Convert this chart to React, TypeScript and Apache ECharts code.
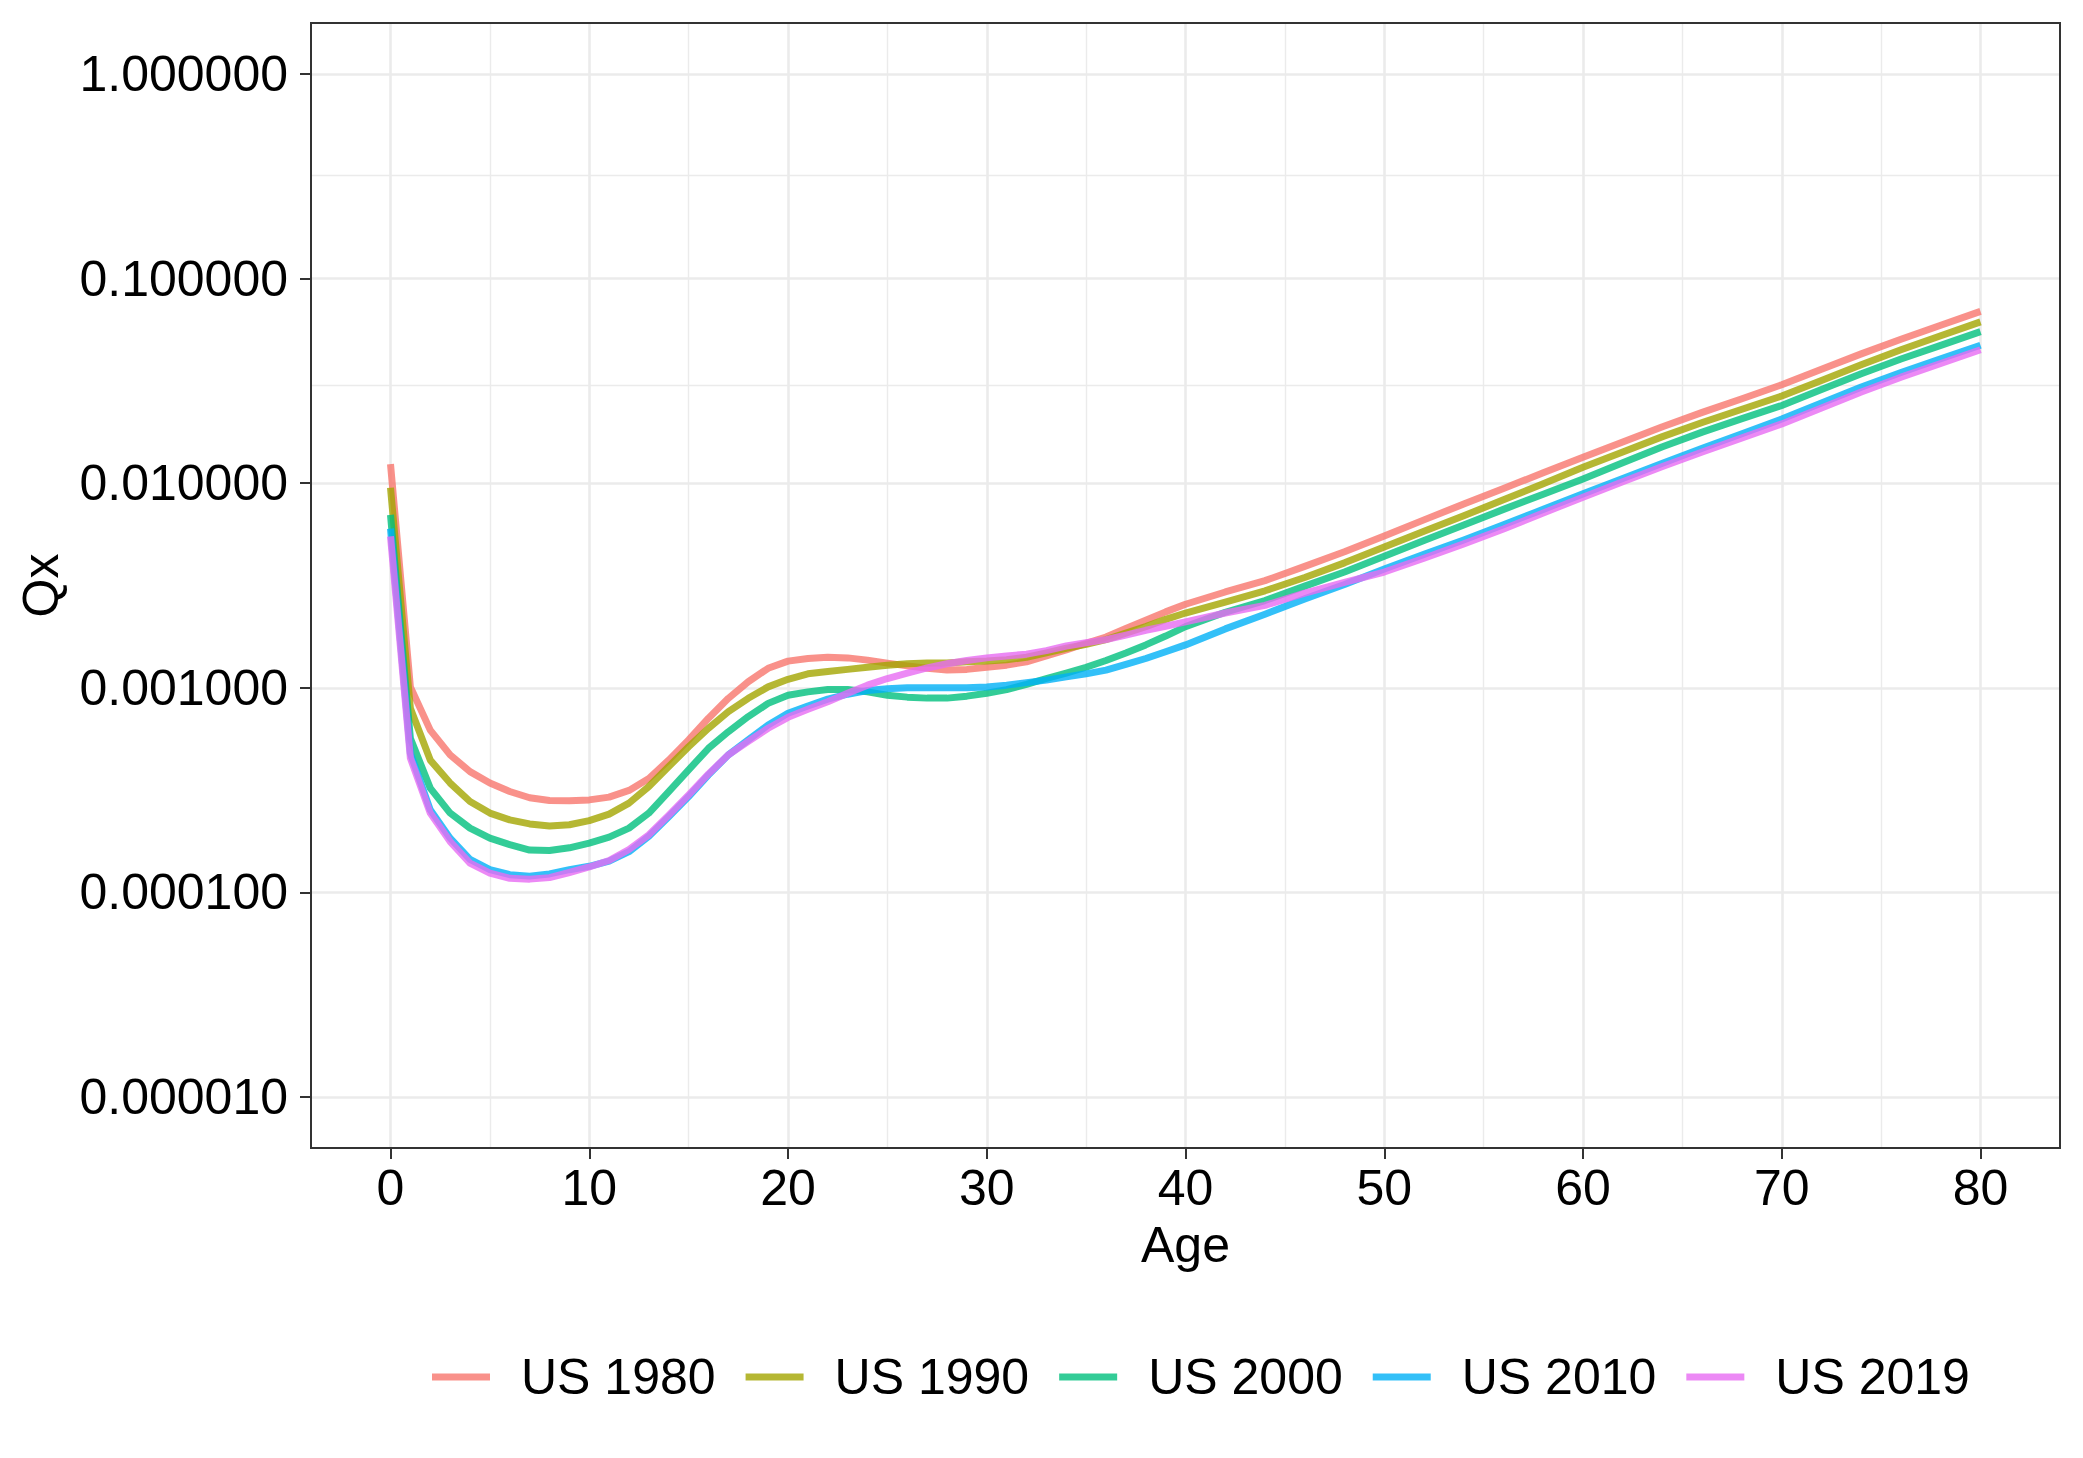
import React, { useEffect, useRef } from "react";
import * as echarts from "echarts";

// Ages (x values)
const ages = [
  0, 1, 2, 3, 4, 5, 6, 7, 8, 9, 10, 11, 12, 13, 14, 15, 16, 17, 18, 19, 20,
  21, 22, 23, 24, 25, 26, 27, 28, 29, 30, 31, 32, 33, 34, 35, 36, 37, 38, 39, 40,
  42, 44, 46, 48, 50, 52, 54, 56, 58, 60, 62, 64, 66, 68, 70, 72, 74, 76, 78, 80,
];

const us1980 = [
  0.0124, 0.00101, 0.000621, 0.00047, 0.000389, 0.000342, 0.000311, 0.00029, 0.000281, 0.00028, 0.000283,
  0.000292, 0.000315, 0.00036, 0.000443, 0.000556, 0.00071, 0.000888, 0.00107, 0.001245, 0.00135,
  0.00139, 0.00141, 0.0014, 0.001365, 0.00132, 0.00128, 0.001245, 0.00122, 0.00123, 0.00126,
  0.00129, 0.00134, 0.00143, 0.00153, 0.00165, 0.00177, 0.00195, 0.00214, 0.00235, 0.00256,
  0.00294, 0.00334, 0.00392, 0.00462, 0.00552, 0.00662, 0.00791, 0.00942, 0.01125, 0.0134,
  0.0159, 0.0189, 0.0222, 0.0259, 0.0303, 0.0361, 0.0429, 0.0506, 0.0592, 0.0692,
];

const us1990 = [
  0.0095, 0.000794, 0.000443, 0.000342, 0.000278, 0.000244, 0.000226, 0.000216, 0.000211, 0.000214, 0.000224,
  0.000241, 0.000273, 0.000329, 0.000412, 0.000515, 0.000634, 0.000764, 0.000888, 0.00101, 0.0011,
  0.00117, 0.0012, 0.00123, 0.00126, 0.00129, 0.00131, 0.00132, 0.00132, 0.00134, 0.00135,
  0.00137, 0.00141, 0.00148, 0.00156, 0.00163, 0.00172, 0.00185, 0.00199, 0.00216, 0.00232,
  0.00262, 0.00298, 0.00346, 0.00408, 0.00488, 0.00583, 0.00693, 0.0083, 0.00995, 0.01197,
  0.01422, 0.0169, 0.0198, 0.023, 0.0267, 0.0318, 0.038, 0.0449, 0.0526, 0.0615,
];

const us2000 = [
  0.007, 0.000566, 0.000323, 0.000244, 0.000206, 0.000184, 0.000171, 0.000161, 0.00016, 0.000165, 0.000174,
  0.000186, 0.000206, 0.000244, 0.000311, 0.000397, 0.000506, 0.00061, 0.000723, 0.000839, 0.00092,
  0.000955, 0.00098, 0.00098, 0.000955, 0.00092, 0.0009, 0.00089, 0.00089, 0.00091, 0.00094,
  0.00098, 0.00104, 0.00111, 0.00118, 0.00126, 0.00136, 0.00148, 0.00162, 0.00179, 0.00199,
  0.00234, 0.00267, 0.00314, 0.00368, 0.0044, 0.00525, 0.00625, 0.00745, 0.00883, 0.0105,
  0.01259, 0.01507, 0.01778, 0.0207, 0.024, 0.0287, 0.0343, 0.0405, 0.0472, 0.0551,
];

const us2010 = [
  0.006, 0.000478, 0.000253, 0.000184, 0.000145, 0.000129, 0.000122, 0.00012, 0.000123, 0.000129, 0.000134,
  0.000142, 0.000158, 0.000188, 0.000234, 0.000294, 0.000375, 0.00047, 0.000556, 0.000658, 0.00075,
  0.000815, 0.00088, 0.00093, 0.00097, 0.00099, 0.001, 0.001, 0.001, 0.001, 0.00101,
  0.00103, 0.00106, 0.00109, 0.00113, 0.00117, 0.00122, 0.0013, 0.00139, 0.0015, 0.00162,
  0.00194, 0.00229, 0.00272, 0.0032, 0.00381, 0.00449, 0.00528, 0.00627, 0.00745, 0.00887,
  0.01054, 0.01253, 0.01483, 0.01746, 0.0206, 0.0247, 0.0295, 0.0348, 0.0406, 0.0473,
];

const us2019 = [
  0.0055, 0.000453, 0.000244, 0.000177, 0.000139, 0.000124, 0.000117, 0.000116, 0.000118, 0.000125, 0.000133,
  0.000143, 0.000162, 0.000191, 0.000238, 0.000299, 0.000379, 0.00047, 0.000547, 0.000634, 0.000717,
  0.000785, 0.000855, 0.00094, 0.00103, 0.00111, 0.00118, 0.00125, 0.00131, 0.00136, 0.0014,
  0.00143, 0.00146, 0.00152, 0.0016, 0.00166, 0.00172, 0.00181, 0.00191, 0.002, 0.0021,
  0.00232, 0.00253, 0.0029, 0.00328, 0.00368, 0.0043, 0.00505, 0.00597, 0.00715, 0.00855,
  0.01016, 0.01208, 0.01422, 0.01667, 0.0195, 0.0233, 0.0279, 0.033, 0.0385, 0.0449,
];

const seriesNames = ["US 1980", "US 1990", "US 2000", "US 2010", "US 2019"];
const seriesValues = [us1980, us1990, us2000, us2010, us2019];
const seriesColors = [
  "rgba(248,118,109,0.8)",
  "rgba(163,165,0,0.8)",
  "rgba(0,191,125,0.8)",
  "rgba(0,176,246,0.8)",
  "rgba(231,107,243,0.8)",
];

// Tick values
const xTicks = [0, 10, 20, 30, 40, 50, 60, 70, 80];
const yTicks = [0.00001, 0.0001, 0.001, 0.01, 0.1, 1];
const yMinorBreaks = [0.0000316228, 0.000316228, 0.00316228, 0.0316228, 0.316228];

const FONT = "'Liberation Sans', Arial, Helvetica, sans-serif";
const FS = 50;

function buildOption() {
  const yMin = Math.pow(10, -5.25);
  const yMax = Math.pow(10, 0.25);
  const lines = seriesNames.map((name, i) => ({
    type: "line",
    name,
    data: ages.map((a, j) => [a, seriesValues[i][j]]),
    showSymbol: false,
    symbol: "none",
    color: seriesColors[i],
    lineStyle: { width: 7, color: seriesColors[i], cap: "butt", join: "round" },
    emphasis: { disabled: true },
    z: 2,
  }));
  return {
    animation: false,
    backgroundColor: "#ffffff",
    textStyle: { fontFamily: FONT },
    grid: {
      left: 311,
      top: 23,
      width: 1749,
      height: 1125,
      show: true,
      borderColor: "#333333",
      borderWidth: 2,
      backgroundColor: "transparent",
      z: 3,
    },
    legend: {
      data: seriesNames.map((n) => ({ name: n, icon: "rect" })),
      left: 427,
      top: 1347,
      orient: "horizontal",
      itemWidth: 58,
      itemHeight: 7,
      itemGap: 30,
      selectedMode: false,
      textStyle: { fontSize: FS, color: "#000000", fontFamily: FONT, padding: [0, 0, 0, 26] },
    },
    xAxis: {
      type: "value",
      min: -4,
      max: 84,
      splitNumber: 9,
      minInterval: 10,
      maxInterval: 10,
      name: "Age",
      nameLocation: "middle",
      nameGap: 72,
      nameTextStyle: { fontSize: FS, color: "#000000", fontFamily: FONT },
      axisLine: { show: false, onZero: false },
      axisTick: {
        show: true,
        length: 11,
        customValues: xTicks,
        lineStyle: { color: "#333333", width: 2 },
      },
      axisLabel: {
        fontSize: FS,
        color: "#000000",
        fontFamily: FONT,
        margin: 15,
        showMinLabel: false,
        showMaxLabel: false,
      },
      splitLine: { show: true, lineStyle: { color: "#EBEBEB", width: 2.6 } },
      minorTick: { show: false, splitNumber: 2 },
      minorSplitLine: { show: true, lineStyle: { color: "#EBEBEB", width: 1.4 } },
    },
    yAxis: {
      type: "log",
      logBase: 10,
      min: yMin,
      max: yMax,
      name: "Qx",
      nameLocation: "middle",
      nameGap: 245,
      nameTextStyle: { fontSize: FS, color: "#000000", fontFamily: FONT },
      axisLine: { show: false, onZero: false },
      axisTick: {
        show: true,
        length: 11,
        customValues: yTicks,
        lineStyle: { color: "#333333", width: 2 },
      },
      axisLabel: {
        fontSize: FS,
        color: "#000000",
        fontFamily: FONT,
        margin: 23,
        showMinLabel: false,
        showMaxLabel: false,
        formatter: (v: number) => Number(v).toFixed(6),
      },
      splitLine: { show: true, lineStyle: { color: "#EBEBEB", width: 2.6 } },
      minorSplitLine: { show: false },
    },
    series: [
      {
        type: "line",
        name: "__minor_grid",
        data: [],
        silent: true,
        z: 1,
        markLine: {
          silent: true,
          z: 1,
          symbol: "none",
          animation: false,
          label: { show: false },
          emphasis: { disabled: true },
          lineStyle: { color: "#EBEBEB", width: 1.4, type: "solid" },
          data: yMinorBreaks.map((v) => ({ yAxis: v })),
        },
      },
      ...lines,
    ],
  };
}

export default function App() {
  const ref = useRef<HTMLDivElement>(null);
  useEffect(() => {
    if (!ref.current) return;
    const chart = echarts.init(ref.current, null, { renderer: "svg" });
    chart.setOption(buildOption() as any);
    return () => {
      chart.dispose();
    };
  }, []);
  return (
    <div
      ref={ref}
      style={{
        position: "fixed",
        left: 0,
        top: 0,
        width: 2083,
        height: 1458,
        background: "#ffffff",
      }}
    />
  );
}
